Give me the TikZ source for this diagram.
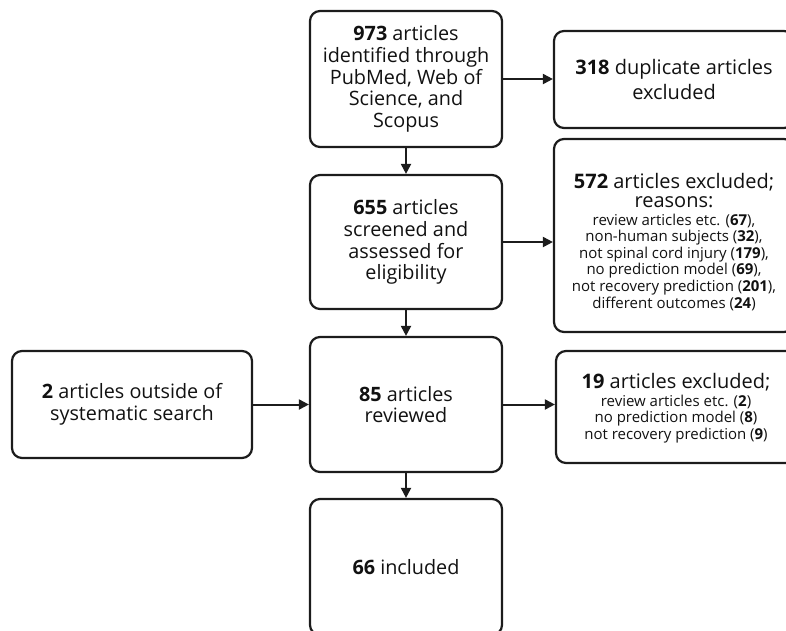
\documentclass[tikz,border=0pt]{standalone}
\usepackage{fontspec}
\setmainfont{Open Sans}
\usetikzlibrary{arrows.meta}
\definecolor{ln}{HTML}{1C1C1C}
\definecolor{tx}{HTML}{111111}
\begin{document}
\begin{tikzpicture}[x=1pt,y=-1pt,
  box/.style={draw=ln, line width=2.2pt, rounded corners=10pt, align=center,
    inner sep=0pt, text=tx, font=\fontsize{19.8}{21.7}\selectfont},
  arr/.style={draw=ln, line width=2pt, -{Triangle[length=10pt,width=10pt]}},
  small/.style={font=\fontsize{15}{16.6}\selectfont, align=center, text=tx, inner sep=0pt},
]
\useasboundingbox (0,0) rectangle (786,630);
\clip (0,0) rectangle (786,630);

\node[box, minimum width=192pt, minimum height=136pt] (b973) at (406,79)
  {\textbf{973} articles\\identified through\\PubMed, Web of\\Science, and\\Scopus};
\node[box, minimum width=240pt, minimum height=97pt, font=\fontsize{20}{25}\selectfont] (b318) at (674,79.5)
  {\textbf{318} duplicate articles\\excluded};
\node[box, minimum width=192pt, minimum height=134pt] (b655) at (406,242)
  {\textbf{655} articles\\screened and\\assessed for\\eligibility};
\node[box, minimum width=240pt, minimum height=193pt] (b572) at (674,235.5) {};
\node[small] (t572) at (674,242)
  {{\fontsize{20}{21.7}\selectfont\textbf{572} articles excluded;}\\[2pt]
   {\fontsize{20}{21.7}\selectfont reasons:}\\[1pt]
   review articles etc. (\textbf{67}),\\
   non-human subjects (\textbf{32}),\\
   not spinal cord injury (\textbf{179}),\\
   no prediction model (\textbf{69}),\\
   not recovery prediction (\textbf{201}),\\
   different outcomes (\textbf{24})};
\node[box, minimum width=240pt, minimum height=107pt] (b2) at (132,404.5)
  {\textbf{2} articles outside of\\systematic search};
\node[box, minimum width=192pt, minimum height=135pt] (b85) at (406,404.5)
  {\textbf{85} articles\\reviewed};
\node[box, minimum width=240pt, minimum height=112pt] (b19) at (676,407) {};
\node[small] (t19) at (676,408)
  {{\fontsize{20}{21.7}\selectfont\textbf{19} articles excluded;}\\[1pt]
   review articles etc. (\textbf{2})\\
   no prediction model (\textbf{8})\\
   not recovery prediction (\textbf{9})};
\node[box, minimum width=192pt, minimum height=136pt] (b66) at (406,567)
  {\textbf{66} included};

\draw[arr] (b973.east) -- (b973.east -| b318.west);
\draw[arr] (b973) -- (b655);
\draw[arr] (b655.east) -- (b655.east -| b572.west);
\draw[arr] (b655) -- (b85);
\draw[arr] (b2) -- (b85);
\draw[arr] (b85.east) -- (b85.east -| b19.west);
\draw[arr] (b85) -- (b66);
\end{tikzpicture}
\end{document}
